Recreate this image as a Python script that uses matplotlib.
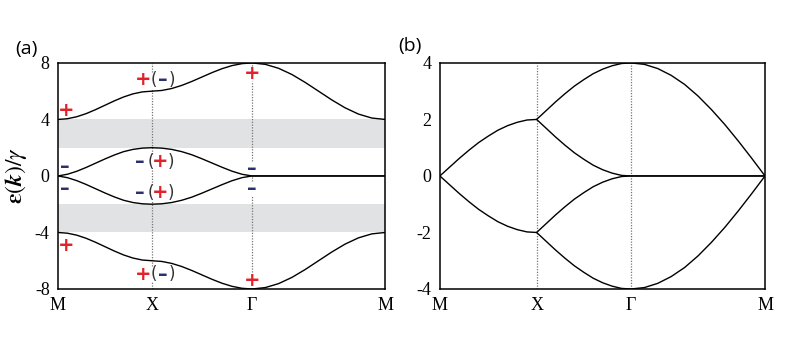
import numpy as np
import matplotlib
matplotlib.use('Agg')
import matplotlib.pyplot as plt

plt.rcParams['mathtext.fontset'] = 'stix'

# k-path tick positions (M, X, Gamma, M), path length units
ticks_a = [0.0, 1.0, 2.07, 3.49]
ticks_b = [0.0, 1.0, 1.975, 3.36]
tick_labels = ['M', 'X', 'Γ', 'M']

# panel (a): energies sampled at 11 equally spaced points on each segment
a_top_mx = [4.0, 4.05, 4.19, 4.41, 4.69, 5.0, 5.31, 5.59, 5.81, 5.95, 6.0]
a_top_xg = [6.0, 6.05, 6.19, 6.41, 6.69, 7.0, 7.31, 7.59, 7.81, 7.95, 8.0]
a_top_gm = [8.0, 7.9, 7.62, 7.18, 6.62, 6.0, 5.38, 4.82, 4.38, 4.1, 4.0]
a_mid_mx = [0.0, 0.12, 0.33, 0.6, 0.9, 1.2, 1.48, 1.72, 1.88, 1.97, 2.0]
a_mid_xg = [2.0, 1.97, 1.88, 1.72, 1.5, 1.22, 0.92, 0.62, 0.34, 0.12, 0.0]
a_mid_gm = [0.0] * 11
gap_bands = [(2.0, 4.0), (-4.0, -2.0)]

# panel (b)
b_up_mx = [0.0, 0.31, 0.62, 0.91, 1.18, 1.41, 1.62, 1.78, 1.9, 1.98, 2.0]
b_up_xg = [2.0, 2.31, 2.62, 2.91, 3.18, 3.41, 3.62, 3.78, 3.9, 3.98, 4.0]
b_up_gm = [4.0, 3.95, 3.8, 3.56, 3.24, 2.83, 2.35, 1.82, 1.24, 0.63, 0.0]
b_mid_xg = [2.0, 1.69, 1.38, 1.09, 0.82, 0.59, 0.38, 0.22, 0.1, 0.02, 0.0]
b_mid_gm = [0.0] * 11

# parity labels: (k index, energy, [(text, color, dx pixels)])
RED = '#e0232b'
BLUE = '#2c2e6e'
BLK = '#333333'
a_signs = [
    (0, 4.64, [('+', RED, 8)]),
    (0, 0.7, [('–', BLUE, 7)]),
    (0, -0.87, [('–', BLUE, 7)]),
    (0, -4.95, [('+', RED, 8)]),
    (1, 6.8, [('+', RED, -9), ('(', BLK, 2), ('–', BLUE, 11), (')', BLK, 20)]),
    (1, 1.0, [('–', BLUE, -12), ('(', BLK, -1), ('+', RED, 8), (')', BLK, 19)]),
    (1, -1.2, [('–', BLUE, -12), ('(', BLK, -1), ('+', RED, 8), (')', BLK, 19)]),
    (1, -6.95, [('+', RED, -9), ('(', BLK, 2), ('–', BLUE, 11), (')', BLK, 20)]),
    (2, 7.25, [('+', RED, 0)]),
    (2, 0.52, [('–', BLUE, 0)]),
    (2, -0.89, [('–', BLUE, 0)]),
    (2, -7.37, [('+', RED, 0)]),
]


def path(ticks, segments):
    """Join segment samples into one x, y line"""
    xs, ys = [], []
    for i, seg in enumerate(segments):
        if seg is None:
            continue
        xs.append(np.linspace(ticks[i], ticks[i + 1], len(seg)))
        ys.append(np.array(seg))
    return np.concatenate(xs), np.concatenate(ys)


def dotted(ax, x, y0, y1, holes=(), half=0.0):
    """Vertical dotted guide, broken where labels sit"""
    edges = [y0]
    for h in sorted(holes):
        edges += [h - half, h + half]
    edges.append(y1)
    for lo, hi in zip(edges[::2], edges[1::2]):
        ax.plot([x, x], [lo, hi], color='#777777', ls=(0, (1, 1.2)), lw=0.9, zorder=1)


def style_axes(ax, ticks):
    ax.set_xlim(ticks[0], ticks[-1])
    ax.set_xticks(ticks)
    ax.set_xticklabels(tick_labels, fontfamily='Liberation Serif', fontsize=13)
    ax.tick_params(length=0, pad=6)
    for lab in ax.get_yticklabels():
        lab.set_fontfamily('Liberation Serif')
        lab.set_fontsize(13)
    for sp in ax.spines.values():
        sp.set_linewidth(1.1)


fig = plt.figure(figsize=(7.94, 3.42), dpi=100)
ax_a = fig.add_axes([0.073, 0.155, 0.412, 0.661])
ax_b = fig.add_axes([0.554, 0.155, 0.4095, 0.661])

# ---- panel (a)
for lo, hi in gap_bands:
    ax_a.axhspan(lo, hi, color='#e1e2e3', lw=0, zorder=0)
for segs in ([a_top_mx, a_top_xg, a_top_gm], [a_mid_mx, a_mid_xg, a_mid_gm]):
    x, y = path(ticks_a, segs)
    ax_a.plot(x, y, color='black', lw=1.0, zorder=3)
    ax_a.plot(x, -y, color='black', lw=1.0, zorder=3)
ax_a.set_ylim(-8, 8)
ax_a.set_yticks([-8, -4, 0, 4, 8])
ax_a.set_yticklabels(['-8', '-4', '0', '4', '8'])
style_axes(ax_a, ticks_a)
ax_a.set_ylabel(r'$\mathbf{\varepsilon}(\mathbfit{k})/\gamma$', fontsize=17, labelpad=4)

for k in (1, 2):
    holes = [e for kk, e, _ in a_signs if kk == k]
    dotted(ax_a, ticks_a[k], -8, 8, holes, half=0.55)

for k, e, parts in a_signs:
    for txt, col, dx in parts:
        is_paren = txt in '()'
        ax_a.annotate(txt, (ticks_a[k], e), xytext=(dx, 0), textcoords='offset pixels',
                      ha='center', va='center', color=col,
                      fontsize=12 if is_paren else 14,
                      fontweight='normal' if is_paren else 'bold',
                      fontfamily='DejaVu Sans', zorder=5)

# ---- panel (b)
x, y = path(ticks_b, [b_up_mx, b_up_xg, b_up_gm])
ax_b.plot(x, y, color='black', lw=1.0, zorder=3)
ax_b.plot(x, -y, color='black', lw=1.0, zorder=3)
x, y = path(ticks_b, [None, b_mid_xg, b_mid_gm])
ax_b.plot(x, y, color='black', lw=1.0, zorder=3)
ax_b.plot(x, -y, color='black', lw=1.0, zorder=3)
ax_b.set_ylim(-4, 4)
ax_b.set_yticks([-4, -2, 0, 2, 4])
ax_b.set_yticklabels(['-4', '-2', '0', '2', '4'])
style_axes(ax_b, ticks_b)
for k in (1, 2):
    dotted(ax_b, ticks_b[k], -4, 4)

fig.text(0.019, 0.857, '(a)', fontsize=14, fontfamily='Open Sans', va='center')
fig.text(0.501, 0.866, '(b)', fontsize=14, fontfamily='Open Sans', va='center')

fig.savefig('out.png', dpi=100)
